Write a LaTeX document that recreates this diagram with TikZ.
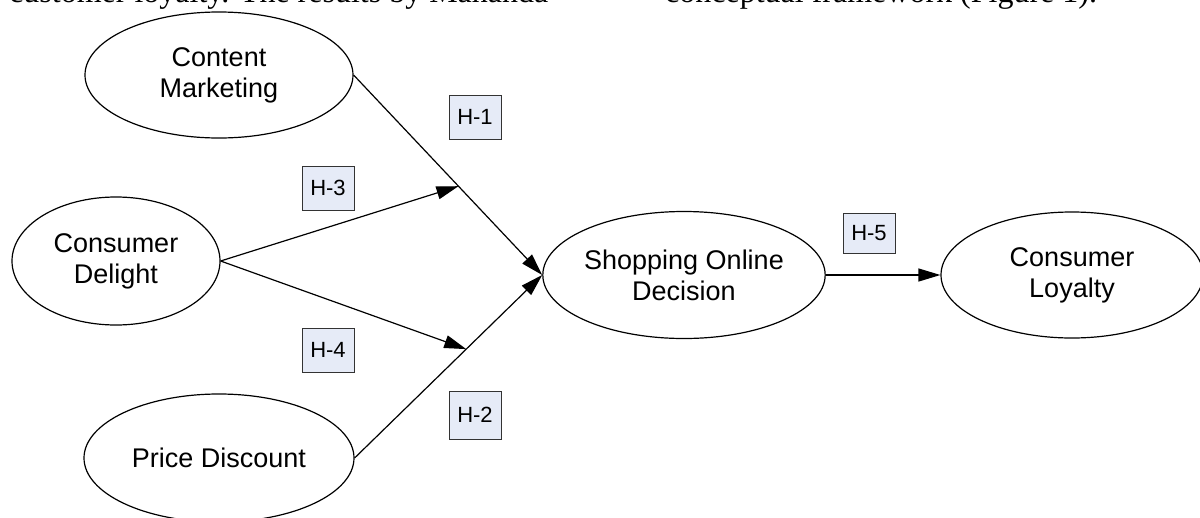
\documentclass[tikz,border=0pt]{standalone}
\usepackage{fontspec}
\setmainfont{Liberation Sans}
\newfontfamily\serifbody{Liberation Serif}
\usetikzlibrary{arrows.meta,shapes.geometric,calc}
\definecolor{hypfill}{HTML}{E6EBF7}
\definecolor{hypdraw}{HTML}{333333}
\begin{document}
\begin{tikzpicture}[x=1pt,y=-1pt,
  ell/.style={draw, ellipse, line width=1.2pt, inner sep=0pt, align=center,
    font=\fontsize{27}{31}\selectfont},
  hyp/.style={draw=hypdraw, fill=hypfill, line width=1pt, minimum width=52pt,
    minimum height=44pt, inner sep=0pt, font=\fontsize{22}{25}\selectfont},
  conn/.style={line width=1.2pt, -{Triangle[length=22pt,width=13pt]}},
  bodytext/.style={anchor=base west, inner sep=0pt, font=\serifbody\fontsize{32}{38}\selectfont}
]
\path[use as bounding box, clip] (0,0) rectangle (1200,517);

% cut-off body text at the top
\node[bodytext] (t1) at (9,2) {customer loyalty. The results by Mahanda};
\node[bodytext] (t2) at (665,2) {conceptual framework (Figure 1).};

% constructs
\node[ell, minimum width=268pt, minimum height=126pt] (cm) at (219,75) {Content\\Marketing};
\node[ell, minimum width=208pt, minimum height=128pt] (cd) at (116,261) {Consumer\\Delight};
\node[ell, minimum width=270pt, minimum height=128pt] (pd) at (219,458) {Price Discount};
\node[ell, minimum width=270pt, minimum height=127pt] (sod) at (684,275) {Shopping Online\\Decision};
\node[ell, minimum width=262pt, minimum height=126pt] (cl) at (1072,275) {Consumer\\Loyalty};

% junction points on the main paths
\coordinate (j1) at ($(cm.east)!0.556!(sod.west)$);
\coordinate (j2) at ($(pd.east)!0.595!(sod.west)$);

% connectors
\draw[conn] (cm.east) -- (sod.west);
\draw[conn] (pd.east) -- (sod.west);
\draw[conn] (cd.east) -- (j1);
\draw[conn] (cd.east) -- (j2);
\draw[conn] (sod.east) -- (cl.west);

% hypothesis labels
\node[hyp] (h1) at (475,117) {H-1};
\node[hyp] (h3) at (328,188) {H-3};
\node[hyp] (h4) at (328,350) {H-4};
\node[hyp, minimum height=48pt] (h2) at (475,415) {H-2};
\node[hyp, minimum height=40pt] (h5) at (869,233) {H-5};
\end{tikzpicture}
\end{document}
